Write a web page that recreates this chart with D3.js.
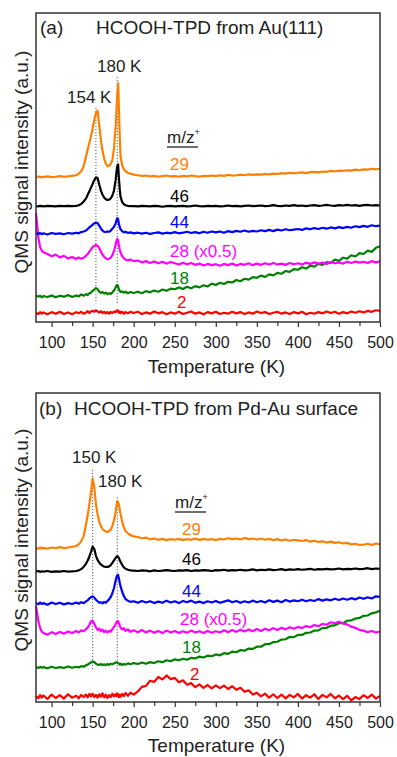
<!DOCTYPE html>
<html>
<head>
<meta charset="utf-8">
<script src="https://cdn.jsdelivr.net/npm/d3@7"></script>
<style>
  body { margin: 0; background: #fff; }
  svg text { font-family: "Liberation Sans", Arial, sans-serif; }
</style>
</head>
<body>
<svg id="chart" width="397" height="757"></svg>
<script>
// temperature grid (K) shared by every trace
const temps = [
  81, 84, 86, 88, 90, 95, 100, 105, 110, 115, 120, 125, 130, 133, 136, 139,
  142, 144, 146, 148, 150, 152, 154, 156, 158, 160, 162, 164, 166, 168, 170, 172, 174, 176, 178, 179, 180, 181, 182, 183, 184, 186, 188, 190, 193, 196, 200,
  205, 210, 215, 220, 225, 230, 235, 240, 245, 250,
  255, 260, 265, 270, 275, 280, 285, 290, 295, 300,
  305, 310, 315, 320, 325, 330, 335, 340, 345, 350,
  355, 360, 365, 370, 375, 380, 385, 390, 395, 400,
  405, 410, 415, 420, 425, 430, 435, 440, 445, 450,
  455, 460, 465, 470, 475, 480, 485, 490, 495, 500
];

const seriesNames = ['29', '46', '44', '28 (x0.5)', '18', '2'];
const seriesColors = ['#ff8000', '#000000', '#0000ff', '#ff00ff', '#008000', '#ff0000'];
const tempTicks = [100, 150, 200, 250, 300, 350, 400, 450, 500];
const minorTicks = [125, 175, 225, 275, 325, 375, 425, 475];
const peaksA = [154, 180];
const peaksB = [150, 180];

// ---- (a) Au(111) ----
const a29 = [
  46.9, 47.1, 46.8, 47.0, 46.9, 47.1, 46.9, 47.0, 47.2, 47.0, 47.1, 47.3, 47.5, 48.0, 48.8, 50.4,
  53.6, 55.8, 57.9, 60.1, 62.6, 65.4, 67.6, 68.4, 63.8, 59.0, 55.4, 52.9, 51.3, 50.4, 50.5, 51.2, 52.4, 56.3, 63.1, 68.5, 73.5, 77.3, 69.0, 60.0, 53.5, 50.6, 49.4, 48.8, 48.3, 48.0, 47.7,
  47.5, 47.3, 47.4, 47.1, 47.3, 47.0, 47.2, 47.4, 47.1, 47.2,
  47.0, 47.3, 47.1, 47.4, 47.2, 47.0, 47.3, 47.2, 47.4, 47.2,
  47.5, 47.3, 47.6, 47.4, 47.5, 47.7, 47.5, 47.8, 47.6, 47.8,
  47.7, 47.9, 47.8, 48.0, 47.9, 48.2, 48.0, 48.3, 48.1, 48.3,
  48.4, 48.2, 48.5, 48.6, 48.4, 48.7, 48.6, 48.9, 48.7, 49.0,
  48.9, 49.1, 49.0, 49.3, 49.1, 49.4, 49.3, 49.6, 49.4, 49.6
];
const a46 = [
  37.5, 37.4, 37.6, 37.5, 37.4, 37.6, 37.5, 37.4, 37.6, 37.5, 37.6, 37.5, 37.6, 37.8, 38.2, 39.0,
  40.0, 41.2, 42.3, 43.5, 44.7, 45.9, 46.8, 46.6, 44.5, 42.6, 41.2, 40.3, 39.7, 39.5, 39.6, 40.0, 40.9, 42.5, 45.9, 48.5, 50.5, 51.0, 46.5, 43.0, 40.5, 38.8, 38.1, 37.8, 37.6, 37.5, 37.5,
  37.4, 37.6, 37.5, 37.4, 37.6, 37.5, 37.3, 37.5, 37.6, 37.4,
  37.5, 37.6, 37.4, 37.5, 37.7, 37.5, 37.4, 37.6, 37.5, 37.6,
  37.4, 37.5, 37.7, 37.5, 37.6, 37.4, 37.6, 37.7, 37.5, 37.6,
  37.7, 37.5, 37.6, 37.8, 37.6, 37.5, 37.7, 37.6, 37.8, 37.6,
  37.7, 37.5, 37.7, 37.8, 37.6, 37.7, 37.9, 37.7, 37.6, 37.8,
  37.7, 37.9, 37.7, 37.8, 37.6, 37.8, 37.9, 37.7, 37.8, 37.7
];
const a44 = [
  28.9, 28.5, 28.8, 28.4, 28.7, 28.3, 28.8, 28.5, 28.7, 28.4, 28.8, 28.6, 28.9, 28.7, 29.1, 29.3,
  29.6, 30.1, 30.6, 31.0, 31.5, 31.9, 32.2, 32.0, 31.2, 30.3, 29.6, 29.2, 29.1, 29.3, 29.2, 29.6, 30.2, 30.8, 31.9, 32.8, 33.6, 33.3, 31.8, 30.7, 30.0, 29.4, 29.0, 29.2, 28.8, 29.0, 28.7,
  28.9, 28.6, 28.9, 28.5, 28.8, 29.0, 28.6, 28.9, 28.7, 29.1,
  28.7, 28.9, 29.2, 28.8, 29.1, 28.7, 29.2, 28.9, 29.3, 29.0,
  29.3, 28.9, 29.4, 29.1, 29.5, 29.2, 29.6, 29.2, 29.5, 29.3,
  29.7, 29.4, 29.8, 29.4, 29.9, 29.6, 30.0, 29.7, 29.9, 30.1,
  29.8, 30.3, 30.0, 30.4, 30.1, 30.5, 30.2, 30.6, 30.3, 30.7,
  30.4, 30.8, 30.5, 31.0, 30.7, 31.1, 30.8, 31.3, 31.0, 31.2
];
const a28 = [
  35.3, 27.0, 24.2, 23.1, 22.6, 22.0, 21.3, 21.8, 20.9, 21.4, 20.6, 21.0, 20.4, 20.9, 20.5, 20.8,
  21.5, 22.0, 22.8, 23.5, 24.2, 24.6, 24.9, 24.7, 23.9, 22.8, 21.8, 21.1, 20.6, 20.3, 20.5, 20.8, 21.6, 23.0, 25.0, 26.2, 26.9, 26.4, 24.8, 23.4, 22.4, 21.3, 20.6, 20.2, 19.9, 20.2, 19.7,
  19.9, 19.3, 19.7, 19.1, 19.6, 19.0, 19.5, 18.9, 19.4, 19.0,
  18.6, 19.2, 18.7, 19.1, 18.5, 18.9, 18.3, 18.8, 18.4, 18.7,
  18.2, 18.8, 18.4, 18.9, 18.3, 18.8, 18.5, 19.0, 18.4, 18.9,
  18.5, 19.0, 18.6, 19.1, 18.6, 18.9, 18.5, 19.1, 18.7, 19.0,
  18.6, 19.2, 18.8, 19.3, 18.9, 19.2, 18.8, 19.4, 19.0, 19.3,
  18.9, 19.5, 19.1, 19.6, 19.2, 19.5, 19.1, 19.7, 19.3, 19.6
];
const a18 = [
  8.6, 8.2, 8.5, 8.0, 8.4, 8.1, 8.6, 8.0, 8.5, 8.2, 8.7, 8.1, 8.6, 8.3, 8.9, 8.5,
  9.0, 8.7, 9.3, 9.5, 10.1, 10.5, 11.0, 10.6, 9.8, 9.4, 9.7, 9.2, 9.5, 9.0, 9.3, 9.1, 9.6, 10.2, 11.2, 11.8, 12.0, 11.5, 10.6, 10.0, 9.7, 9.9, 9.5, 9.8, 9.3, 9.7, 9.4,
  9.8, 9.3, 10.0, 9.6, 10.2, 9.8, 10.5, 10.1, 10.8, 10.6,
  11.2, 10.7, 11.4, 10.9, 11.6, 11.2, 11.9, 11.5, 12.4, 12.0,
  12.7, 12.3, 13.0, 12.8, 13.6, 13.2, 14.0, 13.7, 14.5, 14.3,
  15.0, 14.6, 15.4, 15.1, 15.9, 15.6, 16.5, 16.2, 17.1, 16.9,
  17.7, 17.3, 18.2, 17.9, 18.8, 18.5, 19.4, 19.1, 20.2, 19.8,
  20.8, 20.5, 21.6, 21.2, 22.3, 22.0, 23.1, 22.7, 24.0, 24.5
];
const a2 = [
  3.0, 2.6, 3.2, 2.7, 3.1, 2.5, 3.2, 2.7, 3.3, 2.6, 3.1, 2.5, 3.2, 2.8, 3.3, 2.7,
  3.1, 3.5, 2.9, 3.4, 3.6, 3.3, 3.8, 3.4, 3.0, 3.5, 2.9, 3.3, 2.8, 3.2, 2.7, 3.3, 2.9, 3.4, 3.2, 3.6, 3.8, 3.5, 3.0, 3.4, 2.9, 3.3, 2.7, 3.2, 2.8, 3.3, 2.9,
  3.3, 2.6, 3.1, 2.7, 3.4, 2.8, 3.2, 2.5, 3.1, 2.7,
  3.3, 2.6, 3.0, 3.4, 2.7, 3.1, 2.5, 3.2, 2.8, 3.3,
  2.6, 3.0, 2.7, 3.3, 2.8, 3.2, 2.6, 3.1, 2.7, 3.4,
  2.9, 3.2, 2.6, 3.0, 3.3, 2.7, 3.1, 2.6, 3.2, 2.8,
  3.3, 2.5, 3.0, 2.7, 3.2, 2.8, 3.4, 2.9, 3.3, 2.7,
  3.2, 2.8, 3.4, 3.0, 3.5, 3.1, 3.6, 3.3, 3.8, 3.6
];

// ---- (b) Pd-Au surface ----
const b29 = [
  49.8, 49.6, 50.0, 49.7, 49.9, 49.6, 50.0, 49.8, 50.1, 49.8, 50.0, 50.2, 50.5, 51.0, 52.0, 53.6,
  57.6, 60.5, 64.0, 68.0, 72.3, 69.5, 64.0, 60.7, 58.3, 57.0, 56.0, 55.5, 55.2, 55.0, 55.3, 55.8, 57.0, 58.8, 61.5, 63.5, 65.0, 64.6, 63.8, 62.3, 60.8, 58.3, 56.5, 55.3, 54.6, 54.0, 53.6,
  53.4, 53.0, 53.2, 52.7, 52.9, 52.5, 52.8, 52.4, 52.7, 52.5,
  52.8, 52.4, 52.7, 52.5, 52.9, 52.4, 52.8, 52.5, 52.7, 52.4,
  52.8, 52.6, 53.0, 52.7, 52.9, 52.6, 53.1, 52.7, 52.9, 52.6,
  52.9, 52.5, 52.8, 52.4, 52.7, 52.3, 52.6, 52.2, 52.5, 52.3,
  52.1, 52.4, 51.9, 52.2, 51.8, 52.0, 51.6, 51.9, 51.5, 51.7,
  51.3, 51.5, 51.0, 51.2, 50.8, 50.9, 51.2, 50.8, 51.3, 51.0
];
const b46 = [
  42.2, 42.4, 42.1, 42.3, 42.2, 42.4, 42.1, 42.3, 42.2, 42.4, 42.2, 42.3, 42.4, 42.6, 43.0, 43.7,
  44.8, 45.8, 47.1, 48.6, 50.3, 49.5, 47.3, 46.0, 45.1, 44.5, 44.1, 43.8, 43.7, 43.7, 43.9, 44.3, 45.0, 45.8, 46.6, 47.0, 47.2, 47.0, 46.5, 45.9, 45.3, 44.4, 43.6, 43.1, 42.8, 42.6, 42.5,
  42.4, 42.6, 42.5, 42.3, 42.6, 42.4, 42.5, 42.7, 42.5, 42.4,
  42.6, 42.5, 42.7, 42.4, 42.6, 42.5, 42.7, 42.6, 42.4, 42.7,
  42.6, 42.8, 42.5, 42.7, 42.6, 42.8, 42.6, 42.7, 42.9, 42.6,
  42.8, 42.7, 42.9, 42.7, 42.8, 43.0, 42.7, 42.9, 42.8, 43.0,
  42.8, 42.9, 43.1, 42.8, 43.0, 42.9, 43.1, 42.9, 43.0, 43.2,
  42.9, 43.1, 43.0, 43.2, 43.0, 43.1, 43.3, 43.0, 43.2, 43.1
];
const b44 = [
  32.1, 31.6, 32.2, 31.7, 32.0, 31.5, 32.2, 31.7, 32.1, 31.6, 32.0, 31.7, 32.2, 31.8, 32.3, 32.0,
  32.6, 32.9, 33.5, 33.9, 34.2, 33.8, 33.1, 32.6, 32.1, 32.3, 31.9, 32.4, 32.1, 32.7, 33.2, 34.0, 35.2, 36.9, 39.2, 40.4, 41.0, 41.1, 40.0, 38.6, 37.4, 35.6, 34.3, 33.3, 32.8, 32.4, 32.6,
  32.1, 32.7, 32.2, 32.6, 32.0, 32.5, 32.1, 32.8, 32.2, 32.6,
  32.0, 32.7, 32.3, 32.8, 32.1, 32.5, 32.0, 32.6, 32.2, 32.7,
  32.1, 32.5, 32.9, 32.3, 32.7, 32.1, 32.6, 32.2, 32.8, 32.3,
  32.7, 32.2, 32.9, 32.4, 32.8, 32.3, 33.0, 32.5, 32.9, 32.6,
  33.1, 32.6, 33.0, 32.7, 33.3, 32.8, 33.2, 32.9, 33.4, 33.0,
  33.5, 33.1, 33.6, 33.2, 33.8, 33.4, 33.9, 33.5, 34.2, 34.0
];
const b28 = [
  31.1, 26.0, 24.0, 22.8, 22.3, 21.8, 22.6, 22.0, 22.7, 22.1, 22.8, 22.3, 23.0, 22.5, 23.2, 22.9,
  23.6, 24.1, 25.0, 26.1, 26.4, 25.3, 24.2, 23.3, 23.8, 22.9, 23.4, 22.6, 23.1, 22.5, 23.0, 22.8, 23.6, 24.3, 25.2, 25.8, 26.2, 26.1, 25.4, 24.7, 24.1, 23.5, 23.9, 23.0, 23.5, 22.7, 23.2,
  22.6, 23.3, 22.5, 23.1, 22.4, 23.0, 22.3, 23.1, 22.5, 23.0,
  22.3, 22.9, 22.4, 23.1, 22.5, 22.9, 22.3, 23.0, 22.4, 22.9,
  22.5, 23.2, 22.6, 23.3, 22.7, 23.4, 22.8, 23.5, 22.9, 23.6,
  23.0, 23.7, 23.2, 23.9, 23.3, 24.0, 23.5, 24.2, 23.7, 24.3,
  23.9, 24.6, 24.2, 24.9, 24.5, 25.3, 25.0, 25.8, 25.5, 26.0,
  25.4, 25.1, 24.4, 24.0, 23.3, 23.1, 22.6, 23.0, 22.5, 22.8
];
const b18 = [
  11.3, 11.0, 11.4, 11.1, 11.3, 10.9, 11.4, 11.0, 11.3, 11.0, 11.5, 11.1, 11.4, 11.2, 11.6, 11.4,
  11.9, 12.1, 12.5, 12.8, 13.1, 12.9, 12.4, 12.1, 12.0, 12.3, 11.9, 12.2, 11.9, 12.3, 12.0, 12.4, 12.2, 12.5, 12.7, 12.9, 12.8, 12.6, 12.4, 12.1, 12.4, 12.0, 12.3, 12.1, 12.5, 12.2, 12.6,
  12.3, 12.8, 12.4, 12.9, 12.6, 13.2, 12.9, 13.5, 13.2, 13.8,
  13.5, 14.0, 13.7, 14.3, 14.1, 14.7, 14.4, 15.0, 14.8, 15.4,
  15.1, 15.8, 15.6, 16.3, 16.1, 16.8, 16.6, 17.3, 17.2, 17.9,
  17.9, 18.7, 18.7, 19.4, 19.5, 20.2, 20.3, 21.1, 21.0, 21.7,
  21.7, 22.4, 22.5, 23.1, 23.2, 23.9, 24.0, 24.7, 24.8, 25.5,
  25.5, 26.3, 26.4, 27.0, 27.2, 27.9, 28.0, 28.7, 29.0, 29.6
];
const b2 = [
  1.9, 1.2, 2.3, 1.4, 2.1, 1.0, 2.4, 1.3, 2.2, 1.1, 2.5, 1.4, 2.0, 1.2, 2.3, 1.6,
  2.4, 1.5, 2.6, 1.8, 2.7, 1.6, 2.3, 1.4, 2.5, 1.7, 2.8, 1.5, 2.4, 1.3, 2.2, 1.6, 2.7, 1.8, 2.5, 1.9, 2.8, 2.2, 1.6, 2.4, 1.7, 2.6, 1.9, 2.9, 2.0, 3.0, 2.4,
  3.4, 4.9, 5.2, 6.9, 6.5, 8.1, 7.3, 8.6, 7.4, 7.8,
  6.4, 7.0, 5.6, 6.1, 4.8, 5.7, 4.6, 5.5, 4.4, 5.4,
  4.5, 5.3, 4.2, 5.1, 4.0, 4.6, 3.3, 3.8, 2.4, 3.0,
  1.8, 2.7, 1.4, 2.5, 1.3, 2.4, 1.2, 2.3, 1.5, 2.6,
  1.1, 2.2, 1.4, 2.5, 1.0, 2.3, 1.5, 2.6, 1.2, 2.1,
  0.9, 2.0, 0.5, 1.6, 1.0, 2.2, 1.3, 2.4, 1.1, 2.0
];

// layout
const panels = [
  {
    top: 13, bottom: 322, letter: '(a)', letterX: 40, title: 'HCOOH-TPD from Au(111)', titleX: 96, titleY: 34,
    series: [a29, a46, a44, a28, a18, a2], peaks: peaksA,
    peakTop: [69.3, 79.3], peakBottom: 6.1,
    peakLabels: [[67, 103], [97, 72]],
    labels: [[170, 170], [170, 201.5], [170, 228], [170, 257], [170, 284], [177, 308]],
    mz: [167, 143], yLabelY: 162, axisTitleY: 373
  },
  {
    top: 393, bottom: 702, letter: '(b)', letterX: 39, title: 'HCOOH-TPD from Pd-Au surface', titleX: 74, titleY: 415,
    series: [b29, b46, b44, b28, b18, b2], peaks: peaksB,
    peakTop: [75.1, 66.3], peakBottom: 10.4,
    peakLabels: [[72, 463], [98, 487]],
    labels: [[182, 535], [182, 565], [182, 597], [180, 625], [182, 653], [190, 680]],
    mz: [175, 508], yLabelY: 540, axisTitleY: 752
  }
];

const svg = d3.select('#chart');
const x = d3.scaleLinear().domain([81, 500]).range([36, 380]);
const frameColor = '#333';

panels.forEach((p, pi) => {
  const y = d3.scaleLinear().domain([0, 100]).range([p.bottom, p.top]);
  const g = svg.append('g');

  // dotted peak markers
  p.peaks.forEach((t, i) => {
    g.append('line')
      .attr('x1', x(t)).attr('x2', x(t))
      .attr('y1', y(p.peakTop[i])).attr('y2', y(p.peakBottom))
      .attr('stroke', '#555').attr('stroke-width', 1)
      .attr('stroke-dasharray', '1.2,1.8');
  });

  const line = d3.line().x(d => x(d[0])).y(d => y(d[1]));
  // draw bottom traces first so upper ones sit on top
  p.series.slice().reverse().forEach((vals, ri) => {
    const i = p.series.length - 1 - ri;
    if (vals.length !== temps.length) {
      svg.append('text').attr('x', 60).attr('y', 60 + pi * 20 + i * 10)
        .attr('fill', 'red').attr('font-size', 10)
        .text('len ' + pi + '/' + i + ': ' + vals.length);
    }
    g.append('path')
      .datum(d3.zip(temps, vals))
      .attr('fill', 'none')
      .attr('stroke', seriesColors[i])
      .attr('stroke-width', 2.2)
      .attr('stroke-linejoin', 'round')
      .attr('d', line);
  });

  // frame
  g.append('rect')
    .attr('x', x.range()[0]).attr('y', p.top)
    .attr('width', x.range()[1] - x.range()[0]).attr('height', p.bottom - p.top)
    .attr('fill', 'none').attr('stroke', frameColor).attr('stroke-width', 1.5);

  // x axis
  const axis = g.append('g').attr('transform', `translate(0,${p.bottom})`)
    .call(d3.axisBottom(x).tickValues(tempTicks).tickSize(5).tickPadding(10));
  axis.select('.domain').remove();
  axis.selectAll('line').attr('stroke', frameColor).attr('stroke-width', 1.2);
  axis.selectAll('text').attr('font-size', 16).attr('fill', '#222')
    .style('font-family', '"Liberation Sans", Arial, sans-serif');
  const minor = g.append('g').attr('transform', `translate(0,${p.bottom})`)
    .call(d3.axisBottom(x).tickValues(minorTicks).tickSize(4).tickFormat(''));
  minor.select('.domain').remove();
  minor.selectAll('line').attr('stroke', frameColor).attr('stroke-width', 1.2);

  g.append('text')
    .attr('x', 216.5).attr('y', p.axisTitleY)
    .attr('text-anchor', 'middle').attr('font-size', 19).attr('fill', '#222')
    .text('Temperature (K)');

  g.append('text')
    .attr('transform', `translate(27.5,${p.yLabelY}) rotate(-90)`)
    .attr('text-anchor', 'middle').attr('font-size', 19).attr('fill', '#222')
    .text('QMS signal intensity (a.u.)');

  // panel title
  g.append('text').attr('x', p.letterX).attr('y', p.titleY)
    .attr('font-size', 19).attr('fill', '#222').text(p.letter);
  g.append('text').attr('x', p.titleX).attr('y', p.titleY)
    .attr('font-size', 19).attr('fill', '#222').text(p.title);

  // peak temperatures
  p.peaks.forEach((t, i) => {
    g.append('text').attr('x', p.peakLabels[i][0]).attr('y', p.peakLabels[i][1])
      .attr('font-size', 17).attr('fill', '#222').text(t + ' K');
  });

  // m/z+ header
  const mz = g.append('text').attr('x', p.mz[0]).attr('y', p.mz[1])
    .attr('font-size', 17).attr('fill', '#222');
  mz.append('tspan').text('m/z');
  mz.append('tspan').attr('font-size', 9).attr('dy', -8).text('+');
  g.append('line')
    .attr('x1', p.mz[0]).attr('x2', p.mz[0] + 31)
    .attr('y1', p.mz[1] + 4).attr('y2', p.mz[1] + 4)
    .attr('stroke', '#222').attr('stroke-width', 1.3);

  // series labels
  seriesNames.forEach((name, i) => {
    g.append('text').attr('x', p.labels[i][0]).attr('y', p.labels[i][1])
      .attr('font-size', 17).attr('fill', seriesColors[i]).text(name);
  });
});
</script>
</body>
</html>
